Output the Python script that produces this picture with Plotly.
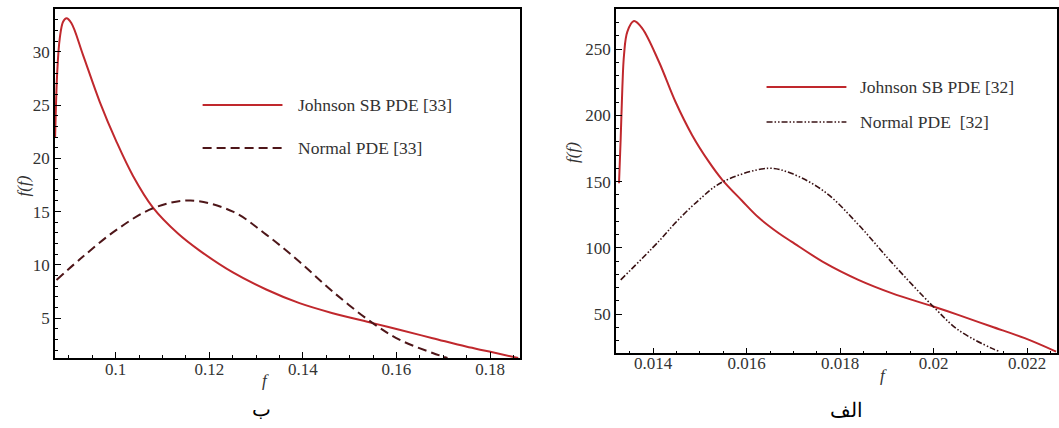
import plotly.graph_objects as go

# ---------------- data ----------------
# Left panel (ب)
left_jsb_f = [0.08705, 0.0875, 0.08804, 0.08875, 0.08948, 0.09054, 0.0930, 0.09658, 0.10015,
              0.1037, 0.10796, 0.1133, 0.11793, 0.12504, 0.13216, 0.13927, 0.14638, 0.15492,
              0.16062, 0.16773, 0.17485, 0.17983, 0.18600]
left_jsb_v = [22.0, 28.1, 31.25, 32.8, 33.13, 32.66, 29.7, 25.3, 21.57,
              18.35, 15.38, 12.95, 11.35, 9.3, 7.7, 6.42, 5.48, 4.55,
              3.92, 3.14, 2.35, 1.88, 1.28]
left_norm_f = [0.08734, 0.09302, 0.10015, 0.10796, 0.1160, 0.12504, 0.13216, 0.13927,
               0.14638, 0.15492, 0.16062, 0.16773, 0.1709]
left_norm_v = [8.6, 10.79, 13.29, 15.32, 16.05, 15.0, 12.85, 10.3,
               7.5, 4.55, 3.0, 1.75, 1.28]

# Right panel (الف)
right_jsb_f = [0.013268, 0.013304, 0.013339, 0.013375, 0.013445, 0.013588, 0.013765, 0.014122,
               0.014478, 0.014833, 0.015189, 0.015473, 0.0159, 0.016256, 0.01668, 0.016967,
               0.01768, 0.01839, 0.019101, 0.019991, 0.020525, 0.021236, 0.021949, 0.02262]
right_jsb_v = [148.7, 182.7, 220.4, 245.5, 263.0, 271.1, 265.6, 240.4,
               210.0, 185.0, 165.0, 151.5, 135.5, 122.8, 111.2, 104.5,
               88.4, 75.8, 65.8, 55.7, 49.4, 40.6, 31.8, 21.7]
right_norm_f = [0.013304, 0.014122, 0.014478, 0.014975, 0.015473, 0.016469, 0.016967,
                0.01768, 0.01839, 0.019101, 0.019991, 0.020525, 0.021236, 0.021414]
right_norm_v = [75.8, 105.0, 119.0, 136.0, 149.5, 160.0, 156.0,
                142.0, 117.5, 89.0, 55.7, 38.1, 24.3, 21.7]

left_xticks = [0.1, 0.12, 0.14, 0.16, 0.18]
left_yticks = [5, 10, 15, 20, 25, 30]
right_xticks = [0.014, 0.016, 0.018, 0.02, 0.022]
right_yticks = [50, 100, 150, 200, 250]

legend_left = ["Johnson SB PDE [33]", "Normal PDE [33]"]
legend_right = ["Johnson SB PDE [32]", "Normal PDE\u00a0\u00a0[32]"]
captions = ["ب", "الف"]

# ---------------- styling ----------------
RED = "#C0282D"
DARK = "#4E1619"
DARK2 = "#3A1214"
FONT = "Liberation Serif, Times New Roman, serif"
TXT = "#333333"
W, H = 1059, 428

def px(x):
    return x / W

def py(y):
    return 1 - y / H

fig = go.Figure()

SM = 1.0
fig.add_trace(go.Scatter(x=left_jsb_f, y=left_jsb_v, mode="lines", line=dict(color=RED, width=2, shape="spline", smoothing=SM),
                         xaxis="x", yaxis="y", showlegend=False))
fig.add_trace(go.Scatter(x=left_norm_f, y=left_norm_v, mode="lines", line=dict(color=DARK, width=2, dash="9px,5px", shape="spline", smoothing=SM),
                         xaxis="x", yaxis="y", showlegend=False))
fig.add_trace(go.Scatter(x=right_jsb_f, y=right_jsb_v, mode="lines", line=dict(color=RED, width=2, shape="spline", smoothing=SM),
                         xaxis="x2", yaxis="y2", showlegend=False))
fig.add_trace(go.Scatter(x=right_norm_f, y=right_norm_v, mode="lines", line=dict(color=DARK2, width=1.6, dash="6px,2px,1.5px,2px,1.5px,2px", shape="spline", smoothing=SM),
                         xaxis="x2", yaxis="y2", showlegend=False))

axis_common = dict(showline=True, linecolor="black", linewidth=1.5, mirror=True, showgrid=False, zeroline=False,
                   ticks="inside", ticklen=6, tickwidth=1.2, tickcolor="black",
                   tickfont=dict(family=FONT, size=17, color=TXT))

fig.update_layout(
    width=W, height=H, margin=dict(l=0, r=0, t=0, b=0),
    paper_bgcolor="white", plot_bgcolor="white",
    font=dict(family=FONT),
    xaxis=dict(domain=[px(55), px(521)], range=[0.0870, 0.1864], tickvals=left_xticks, ticklabelstandoff=-5,
               minor=dict(dtick=0.005, tick0=0.1, ticks="inside", ticklen=3, tickcolor="black"),
               anchor="y", **axis_common),
    yaxis=dict(domain=[py(358), py(9)], range=[1.28, 34.0], tickvals=left_yticks,
               minor=dict(dtick=1, tick0=0, ticks="inside", ticklen=3, tickcolor="black"),
               anchor="x", **axis_common),
    xaxis2=dict(domain=[px(617), 1.0], range=[0.0132, 0.02264], tickvals=right_xticks, ticklabelstandoff=-6,
                minor=dict(dtick=0.0005, tick0=0.014, ticks="inside", ticklen=3, tickcolor="black"),
                anchor="y2", **axis_common),
    yaxis2=dict(domain=[py(353.3), py(9)], range=[20.4, 280.2], tickvals=right_yticks,
                minor=dict(dtick=10, tick0=0, ticks="inside", ticklen=3, tickcolor="black"),
                anchor="x2", **axis_common),
)

shapes = []
annotations = []

def add_legend(x0, x1, ys, xt, labels, styles):
    for y, lab, st in zip(ys, labels, styles):
        shapes.append(dict(type="line", xref="paper", yref="paper", x0=px(x0), x1=px(x1), y0=py(y), y1=py(y),
                           line=st))
        annotations.append(dict(xref="paper", yref="paper", x=px(xt), y=py(y), text=lab, showarrow=False,
                                xanchor="left", yanchor="middle", font=dict(family=FONT, size=17.5, color=TXT)))

add_legend(203, 283, [105, 148], 297, legend_left,
           [dict(color=RED, width=2), dict(color=DARK, width=2, dash="9px,5px")])
add_legend(768, 848, [87, 122], 860, legend_right,
           [dict(color=RED, width=2), dict(color=DARK2, width=1.6, dash="6px,2px,1.5px,2px,1.5px,2px")])

# axis titles
for (x, y) in [(12, 186), (573, 152)]:
    annotations.append(dict(xref="paper", yref="paper", x=px(x), y=py(y), text="<i>f(f)</i>", showarrow=False,
                            textangle=-90, font=dict(family=FONT, size=17, color=TXT)))
for (x, y) in [(260, 392), (891, 387)]:
    annotations.append(dict(xref="paper", yref="paper", x=px(x), y=py(y), text="<i>f</i>", showarrow=False,
                            font=dict(family=FONT, size=17, color=TXT)))

# captions
annotations.append(dict(xref="paper", yref="paper", x=px(250), y=py(422), text=captions[0], showarrow=False,
                        font=dict(family=FONT, size=20, color="black")))
annotations.append(dict(xref="paper", yref="paper", x=px(867), y=py(423), text=captions[1], showarrow=False,
                        font=dict(family=FONT, size=20, color="black")))

fig.update_layout(shapes=shapes, annotations=annotations)

fig.write_html("out.html")
